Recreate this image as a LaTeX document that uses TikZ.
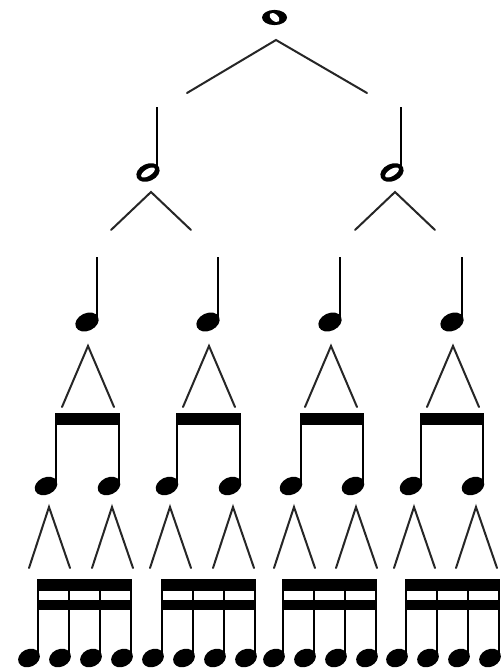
\documentclass[tikz,border=0pt]{standalone}
\begin{document}
\begin{tikzpicture}[x=1pt,y=-1pt,
  branch/.style={line width=2pt,draw=black!85,line cap=round},
  stemline/.style={line width=2.4pt,draw=black},
  beamfill/.style={fill=black}]
\useasboundingbox[fill=white] (0,0) rectangle (501,672);
% whole note
\coordinate (w) at (274.5,17.5);
\fill (w) ellipse [x radius=12.5,y radius=7.6];
\fill[white,rotate around={-40:(w)}] (w) ellipse [x radius=5.8,y radius=3.4];
% top branch
\coordinate (t0) at (276,40);
\coordinate (t1) at (187,93);
\coordinate (t2) at (367,93);
\draw[branch] (t1) -- (t0) -- (t2);
% half notes
\foreach \s/\h/\a [count=\i] in {157/148/151, 401/392/395}{
  \coordinate (hs\i) at (\s,107);
  \coordinate (hb\i) at (\s,171);
  \draw[stemline] (hs\i) -- (hb\i);
  \coordinate (hh\i) at (\h,172.5);
  \fill[rotate around={25:(hh\i)}] (hh\i) ellipse [x radius=12.2,y radius=8.6];
  \fill[white,rotate around={32:(hh\i)}] (hh\i) ellipse [x radius=7.8,y radius=3.4];
  \coordinate (ha\i) at (\a,192);
  \coordinate (hl\i) at (\a-40,230);
  \coordinate (hr\i) at (\a+40,230);
  \draw[branch] (hl\i) -- (ha\i) -- (hr\i);
}
% quarter notes
\foreach \h [count=\i] in {87,208,330,452}{
  \coordinate (qs\i) at (\h+10,257);
  \coordinate (qb\i) at (\h+10,320);
  \draw[stemline] (qs\i) -- (qb\i);
  \coordinate (qh\i) at (\h,322);
  \fill[rotate around={25:(qh\i)}] (qh\i) ellipse [x radius=12.2,y radius=8.8];
  \coordinate (qa\i) at (\h+1,346);
  \coordinate (ql\i) at (\h-25,407);
  \coordinate (qr\i) at (\h+27,407);
  \draw[branch] (ql\i) -- (qa\i) -- (qr\i);
}
% eighth notes
\foreach \sa/\sb [count=\i] in {56/119,177/240,301/363,421/483}{
  \fill[beamfill] (\sa-1.2,413) rectangle (\sb+1.2,425);
  \foreach \s [count=\j] in {\sa,\sb}{
    \coordinate (es\i\j) at (\s,413);
    \coordinate (eb\i\j) at (\s,484);
    \draw[stemline] (es\i\j) -- (eb\i\j);
    \coordinate (eh\i\j) at (\s-10,486);
    \fill[rotate around={25:(eh\i\j)}] (eh\i\j) ellipse [x radius=11.8,y radius=8.6];
    \coordinate (ea\i\j) at (\s-7,507);
    \coordinate (el\i\j) at (\s-27,568);
    \coordinate (er\i\j) at (\s+14,568);
    \draw[branch] (el\i\j) -- (ea\i\j) -- (er\i\j);
  }
}
% sixteenth notes
\foreach \s [count=\i] in {38,162,283,406}{
  \fill[beamfill] (\s-1.2,579) rectangle (\s+94.2,591);
  \fill[beamfill] (\s-1.2,600) rectangle (\s+94.2,610);
  \foreach \k in {0,1,2,3}{
    \coordinate (ss\i\k) at (\s+31*\k,579);
    \coordinate (sb\i\k) at (\s+31*\k,655);
    \draw[stemline] (ss\i\k) -- (sb\i\k);
    \coordinate (sh\i\k) at (\s+31*\k-9,658);
    \fill[rotate around={25:(sh\i\k)}] (sh\i\k) ellipse [x radius=11.3,y radius=8.8];
  }
}
\end{tikzpicture}
\end{document}
